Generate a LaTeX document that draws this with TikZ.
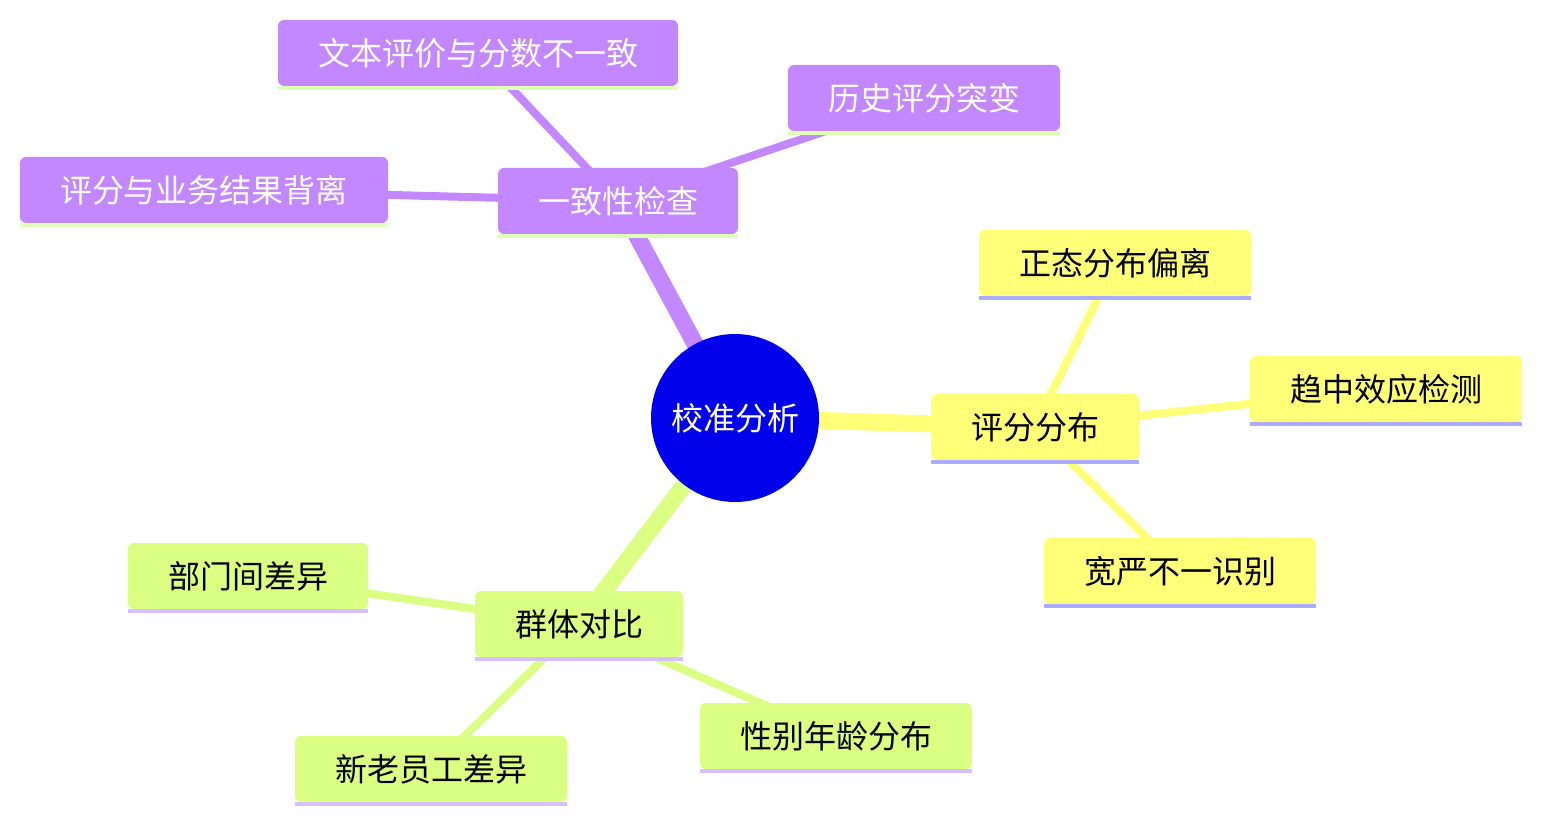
\documentclass[tikz,border=0pt]{standalone}
\usepackage{fontspec}
\setmainfont{Noto Sans CJK SC}
\usetikzlibrary{backgrounds}
\definecolor{secP}{RGB}{195,135,255}
\definecolor{secY}{RGB}{255,255,120}
\definecolor{secG}{RGB}{218,255,130}
\definecolor{barP}{RGB}{222,255,182}
\definecolor{barY}{RGB}{172,172,255}
\definecolor{barG}{RGB}{216,192,255}
\definecolor{rootc}{RGB}{0,0,235}

\begin{document}
\begin{tikzpicture}[x=0.5pt,y=-0.5pt]
\useasboundingbox (0,0) rectangle (1542,823);
\tikzstyle{mm}=[rounded corners=3pt, inner xsep=20pt, inner ysep=0pt,
  minimum height=33pt, font=\fontsize{16}{19}\selectfont]
\tikzstyle{pp}=[mm, fill=secP, text=white]
\tikzstyle{yy}=[mm, fill=secY, text=black]
\tikzstyle{gg}=[mm, fill=secG, text=black]
\tikzstyle{e1}=[line width=8.5pt]
\tikzstyle{e2}=[line width=4pt]

\node[circle, fill=rootc, text=white, minimum size=84pt, inner sep=0pt,
  font=\fontsize{16}{19}\selectfont] (root) at (735,418) {校准分析};

% consistency
\node[pp] (chk) at (618,201) {一致性检查};
\node[pp] (txt) at (478,53) {文本评价与分数不一致};
\node[pp] (hist) at (924,98) {历史评分突变};
\node[pp] (biz) at (204,190) {评分与业务结果背离};

% distribution
\node[yy] (dist) at (1035,427) {评分分布};
\node[yy] (norm) at (1115,263) {正态分布偏离};
\node[yy] (cent) at (1386,389) {趋中效应检测};
\node[yy] (lax) at (1180,571) {宽严不一识别};

% groups
\node[gg] (grp) at (579,624) {群体对比};
\node[gg] (dept) at (248,576) {部门间差异};
\node[gg] (tenure) at (431,769) {新老员工差异};
\node[gg] (demo) at (836,736) {性别年龄分布};

% underline bars
\foreach \n/\c in {chk/barP, txt/barP, hist/barP, biz/barP,
    dist/barY, norm/barY, cent/barY, lax/barY,
    grp/barG, dept/barG, tenure/barG, demo/barG}
  \draw[\c, line width=2pt] ([yshift=-1pt]\n.south west) -- ([yshift=-1pt]\n.south east);

\begin{scope}[on background layer]
\draw[e1, secP] (root.center) -- (chk.center);
\draw[e2, secP] (chk.center) -- (txt.center);
\draw[e2, secP] (chk.center) -- (hist.center);
\draw[e2, secP] (chk.center) -- (biz.center);
\draw[e1, secY] (root.center) -- (dist.center);
\draw[e2, secY] (dist.center) -- (norm.center);
\draw[e2, secY] (dist.center) -- (cent.center);
\draw[e2, secY] (dist.center) -- (lax.center);
\draw[e1, secG] (root.center) -- (grp.center);
\draw[e2, secG] (grp.center) -- (dept.center);
\draw[e2, secG] (grp.center) -- (tenure.center);
\draw[e2, secG] (grp.center) -- (demo.center);
\end{scope}
\end{tikzpicture}
\end{document}
